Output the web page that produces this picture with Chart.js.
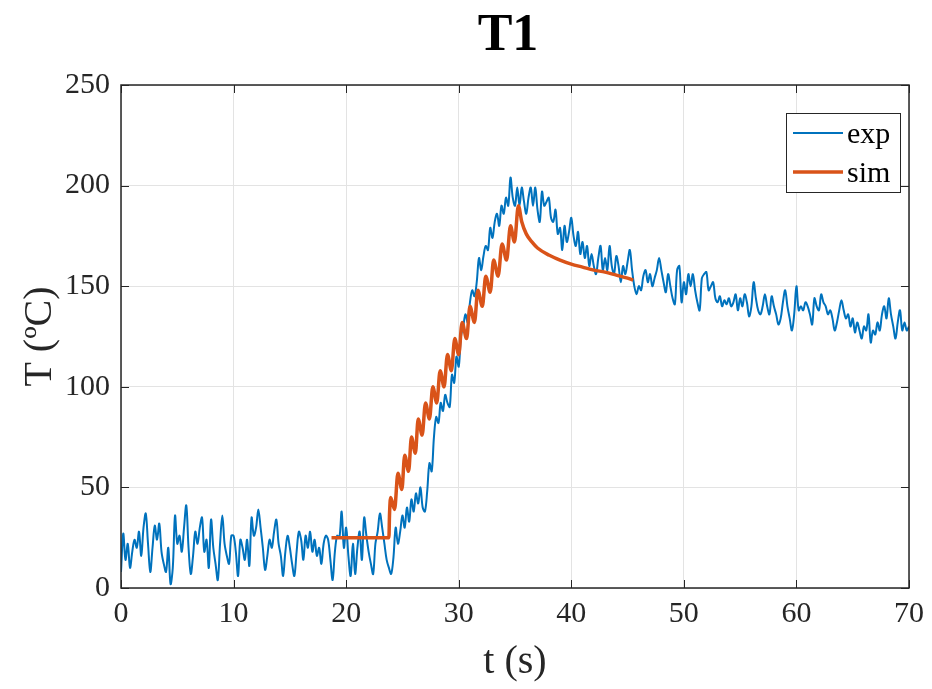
<!DOCTYPE html>
<html>
<head>
<meta charset="utf-8">
<script src="https://cdn.jsdelivr.net/npm/chart.js@4.4.1/dist/chart.umd.min.js"></script>
<style>
  body { margin: 0; background: #fff; }
  canvas { display: block; }
</style>
</head>
<body>
<canvas id="tempChart" width="932" height="689"></canvas>
<script>
const serif = "'Liberation Serif', 'Times New Roman', serif";

// measured temperature, one reading every 0.2 s from t = 0 to 70 s
const expDt = 0.2;
const expTemp = [
    8, 27, 14, 22, 10, 18, 24, 20, 28, 16,
    30, 37, 22, 8, 20, 31, 24, 32, 18, 12,
    8, 20, 2, 10, 36, 22, 26, 18, 30, 41,
    20, 7, 16, 28, 22, 30, 35, 18, 24, 10,
    34, 20, 12, 4, 22, 36, 22, 16, 12, 26,
    26, 18, 6, 24, 20, 14, 24, 11, 35, 26,
    30, 39, 30, 20, 9, 16, 24, 20, 28, 34,
    22, 16, 6, 18, 26, 20, 12, 6, 18, 28,
    24, 14, 26, 20, 28, 18, 24, 16, 20, 12,
    22, 26, 24, 14, 4, 18, 26, 25, 38, 20,
    30, 16, 6, 22, 7, 20, 28, 14, 35, 26,
    18, 12, 7, 22, 28, 37, 30, 22, 14, 10,
    7, 15, 30, 22, 28, 36, 30, 40, 33, 44,
    38, 47, 42, 50, 40, 38, 48, 62, 58, 75,
    85, 82, 92, 88, 96, 92, 90, 106, 102, 115,
    110, 125, 130, 136, 132, 142, 148, 145, 152, 164,
    158, 165, 170, 168, 179, 174, 182, 186, 180, 190,
    186, 194, 190, 204, 194, 190, 199, 190, 199, 192,
    186, 194, 199, 190, 199, 188, 182, 197, 190, 192,
    194, 184, 182, 188, 176, 179, 168, 180, 172, 177,
    184, 175, 170, 177, 166, 172, 164, 170, 160, 166,
    160, 156, 164, 170, 158, 164, 158, 170, 160, 156,
    165, 160, 152, 160, 156, 162, 168, 158, 150, 146,
    150, 148, 155, 158, 152, 156, 150, 154, 158, 164,
    158, 152, 147, 156, 150, 144, 141, 158, 160, 142,
    152, 146, 156, 150, 156, 148, 142, 138, 154, 156,
    157, 148, 150, 152, 144, 142, 145, 140, 143, 141,
    144, 140, 142, 146, 138, 144, 140, 146, 142, 135,
    140, 152, 144, 138, 136, 140, 146, 140, 136, 145,
    140, 136, 131, 134, 142, 148, 140, 134, 128, 136,
    150, 138, 140, 138, 142, 140, 136, 131, 144, 140,
    138, 146, 142, 140, 136, 138, 134, 128, 132, 138,
    143, 138, 134, 136, 130, 134, 127, 132, 128, 124,
    130, 128, 136, 122, 128, 126, 132, 128, 136, 140,
    134, 144, 136, 130, 124, 132, 138, 128, 132, 128,
    130
];

// simulated temperature (peaks and troughs of the pulsed heating, then cooling)
const simTime = [18.7, 23.8, 23.85, 23.95, 24.3, 24.6, 24.95, 25.2, 25.55, 25.8,
    26.15, 26.4, 26.75, 27.05, 27.4, 27.7, 28.05, 28.35, 28.7, 29.0,
    29.35, 29.65, 30.0, 30.3, 30.7, 31.0, 31.4, 31.7, 32.1, 32.4,
    32.8, 33.1, 33.5, 33.85, 34.25, 34.6, 34.95, 35.3, 35.6, 36.0,
    36.5, 37.0, 38.0, 39.0, 40.0, 41.0, 42.0, 43.0, 44.0, 45.0, 45.5];
const simTemp = [25, 25, 36, 45, 39, 57, 49, 66, 58, 75,
    67, 84, 76, 92, 84, 100, 92, 108, 100, 116,
    108, 124, 116, 132, 124, 140, 132, 148, 140, 155,
    147, 163, 155, 171, 163, 180, 172, 190, 182, 176,
    172, 169, 165.5, 163, 161, 159.5, 158, 157, 155.5, 154, 153];

const xTicks = [0, 10, 20, 30, 40, 50, 60, 70];
const yTicks = [0, 50, 100, 150, 200, 250];

const chartTitle = "T1";
const xLabel = "t (s)";
const yLabel = "T (ºC)";
const seriesNames = ["exp", "sim"];
const seriesColors = ["#0072BD", "#D95319"];

const expPoints = expTemp.map((v, i) => ({ x: +(i * expDt).toFixed(1), y: v }));
const simPoints = simTime.map((t, i) => ({ x: t, y: simTemp[i] }));

const axisColor = "#262626";

const framePlugin = {
    id: "frame",
    afterDraw(chart) {
        const { ctx, chartArea: a, scales } = chart;
        ctx.save();

        // inward ticks on all four sides
        ctx.strokeStyle = axisColor;
        ctx.lineWidth = 1;
        const tl = 8;
        ctx.beginPath();
        xTicks.forEach(v => {
            const px = Math.round(scales.x.getPixelForValue(v)) + 0.5;
            ctx.moveTo(px, a.bottom); ctx.lineTo(px, a.bottom - tl);
            ctx.moveTo(px, a.top); ctx.lineTo(px, a.top + tl);
        });
        yTicks.forEach(v => {
            const py = Math.round(scales.y.getPixelForValue(v)) + 0.5;
            ctx.moveTo(a.left, py); ctx.lineTo(a.left + tl, py);
            ctx.moveTo(a.right, py); ctx.lineTo(a.right - tl, py);
        });
        ctx.stroke();

        // box
        ctx.lineWidth = 1.5;
        ctx.strokeRect(a.left, a.top, a.right - a.left, a.bottom - a.top);

        // title and axis labels
        ctx.fillStyle = "#000";
        ctx.textAlign = "center";
        ctx.textBaseline = "alphabetic";
        ctx.font = "bold 52px " + serif;
        ctx.fillText(chartTitle, 508, 50);

        ctx.fillStyle = axisColor;
        ctx.font = "40px " + serif;
        ctx.textBaseline = "middle";
        ctx.fillText(xLabel, (a.left + a.right) / 2, 662);

        ctx.save();
        ctx.translate(40, (a.top + a.bottom) / 2);
        ctx.rotate(-Math.PI / 2);
        ctx.fillText(yLabel, 0, 0);
        ctx.restore();

        // legend, top right inside the axes
        const lx = 786, ly = 113, lw = 114, lh = 79;
        ctx.fillStyle = "#fff";
        ctx.fillRect(lx, ly, lw, lh);
        ctx.strokeStyle = axisColor;
        ctx.lineWidth = 1;
        ctx.strokeRect(lx + 0.5, ly + 0.5, lw, lh);
        ctx.font = "30px " + serif;
        ctx.textAlign = "left";
        chart.data.datasets.forEach((ds, i) => {
            const yy = ly + 20 + i * 39;
            ctx.strokeStyle = ds.borderColor;
            ctx.lineWidth = ds.borderWidth;
            ctx.beginPath();
            ctx.moveTo(lx + 7, yy);
            ctx.lineTo(lx + 57, yy);
            ctx.stroke();
            ctx.fillStyle = "#000";
            ctx.fillText(ds.label, lx + 61, yy + 2);
        });

        ctx.restore();
    }
};

const ctx = document.getElementById("tempChart").getContext("2d");
const tempChart = new Chart(ctx, {
    type: "line",
    data: {
        datasets: [
            {
                label: seriesNames[0],
                data: expPoints,
                borderColor: seriesColors[0],
                borderWidth: 2,
                pointRadius: 0,
                tension: 0.35,
                order: 2
            },
            {
                label: seriesNames[1],
                data: simPoints,
                borderColor: seriesColors[1],
                borderWidth: 3.5,
                pointRadius: 0,
                cubicInterpolationMode: "monotone",
                order: 1
            }
        ]
    },
    options: {
        responsive: false,
        animation: false,
        layout: { padding: { left: 0, right: 22, top: 85, bottom: 0 } },
        plugins: {
            legend: { display: false },
            title: { display: false },
            tooltip: { enabled: false }
        },
        scales: {
            x: {
                type: "linear",
                min: 0,
                max: 70,
                afterFit: s => { s.height = 101; },
                afterBuildTicks: s => { s.ticks = xTicks.map(v => ({ value: v })); },
                grid: { color: "#e3e3e3", drawTicks: false },
                border: { display: false },
                ticks: {
                    color: axisColor,
                    padding: 8,
                    maxRotation: 0,
                    font: { family: serif, size: 30 }
                }
            },
            y: {
                min: 0,
                max: 250,
                afterFit: s => { s.width = 121; },
                afterBuildTicks: s => { s.ticks = yTicks.map(v => ({ value: v })); },
                grid: { color: "#e3e3e3", drawTicks: false },
                border: { display: false },
                ticks: {
                    color: axisColor,
                    padding: 11,
                    font: { family: serif, size: 30 }
                }
            }
        }
    },
    plugins: [framePlugin]
});
</script>
</body>
</html>
